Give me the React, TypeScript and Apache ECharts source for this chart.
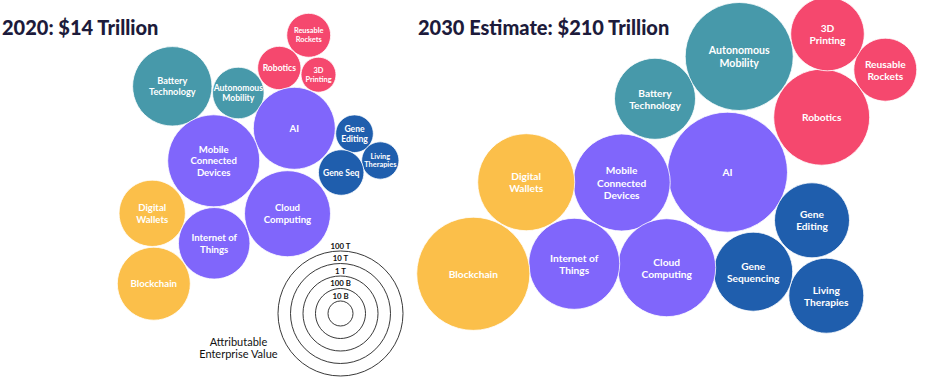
import React, { useEffect, useRef } from "react";
import * as echarts from "echarts";

// ---- Data (values in $ billions) ----
const techs = [
  "Battery Technology",
  "Autonomous Mobility",
  "Reusable Rockets",
  "Robotics",
  "3D Printing",
  "AI",
  "Mobile Connected Devices",
  "Gene Editing",
  "Living Therapies",
  "Gene Sequencing",
  "Cloud Computing",
  "Digital Wallets",
  "Internet of Things",
  "Blockchain",
];
const groups = ["teal", "teal", "pink", "pink", "pink", "purple", "purple", "blue", "blue", "blue", "purple", "yellow", "purple", "yellow"];
const labels2020 = [
  "Battery\nTechnology", "Autonomous\nMobility", "Reusable\nRockets", "Robotics", "3D\nPrinting", "AI",
  "Mobile\nConnected\nDevices", "Gene\nEditing", "Living\nTherapies", "Gene Seq", "Cloud\nComputing",
  "Digital\nWallets", "Internet of\nThings", "Blockchain",
];
const labels2030 = [
  "Battery\nTechnology", "Autonomous\nMobility", "Reusable\nRockets", "Robotics", "3D\nPrinting", "AI",
  "Mobile\nConnected\nDevices", "Gene\nEditing", "Living\nTherapies", "Gene\nSequencing", "Cloud\nComputing",
  "Digital\nWallets", "Internet of\nThings", "Blockchain",
];
const value2020B = [1500, 115, 57, 54, 25, 1900, 4800, 32, 31, 66, 2750, 450, 725, 830];
const value2030B = [1740, 20900, 330, 6900, 880, 63000, 7600, 1000, 1000, 1450, 8300, 7600, 4370, 33500];

// packed-bubble layout positions
const pos2020 = [
  [172.3, 86.3], [238.3, 93], [308.7, 35.3], [279.3, 68], [318.5, 74.7], [294.3, 128.3], [213.7, 160.8],
  [354.5, 133.7], [380.3, 160.5], [341.2, 172.5], [287.5, 213.7], [152.2, 213.3], [214.2, 243.3], [153.8, 283.7],
];
const pos2030 = [
  [655, 98.8], [739.2, 56.5], [885.3, 69.7], [821.7, 117.2], [827.5, 34], [727.5, 172.2], [621.7, 182.5],
  [812, 220.3], [826.3, 295.7], [753.2, 271.7], [666.7, 267.7], [526.2, 182.2], [574.2, 263.8], [473.3, 273.8],
];

const legendValuesB = [100000, 10000, 1000, 100, 10];
const legendLabels = ["100 T", "10 T", "1 T", "100 B", "10 B"];
const legendCenter = [340.5, 313.5];

const titles = ["2020: $14 Trillion", "2030 Estimate: $210 Trillion"];
const legendTitle = "Attributable\nEnterprise Value";

// ---- Styles ----
const colors: Record<string, string> = {
  teal: "#4799AA",
  pink: "#F5486E",
  purple: "#8066FB",
  blue: "#1F5EAD",
  yellow: "#FBBF4A",
};
const fontSize2020 = [9.2, 8.6, 7.4, 8.6, 7.4, 9.6, 9.6, 8.6, 7.4, 8.6, 9.6, 9.6, 9.6, 9.6];
const fontSize2030 = [10.2, 10.6, 10.2, 10.2, 10.2, 10.2, 10.2, 10.2, 10.2, 10.2, 10.2, 10.2, 10.2, 10.2];
const FONT = "Lato, 'Noto Sans', sans-serif";

const sizeOf = (vB: number) => 25 * Math.log10(vB);

export default function App() {
  const ref = useRef<HTMLDivElement>(null);
  useEffect(() => {
    document.body.style.margin = "0";
    if (!ref.current) return;
    const chart = echarts.init(ref.current, undefined, { renderer: "svg" });

    const bubbleData = (vals: number[], pos: number[][], labels: string[], fs: number[]) =>
      vals.map((v, i) => ({
        name: techs[i],
        value: [pos[i][0], pos[i][1], v],
        itemStyle: { color: colors[groups[i]] },
        label: {
          formatter: labels[i],
          fontSize: fs[i],
          lineHeight: fs[i] * 1.2,
        },
      }));

    const bubbleSeries = (data: any[]) => ({
      type: "scatter",
      symbol: "circle",
      silent: true,
      data,
      symbolSize: (val: number[]) => sizeOf(val[2]),
      itemStyle: { opacity: 1, borderColor: "#fff", borderWidth: 0.8 },
      label: {
        show: true,
        position: "inside",
        color: "#fff",
        fontFamily: FONT,
        fontWeight: "bold",
      },
      emphasis: { disabled: true },
    });

    chart.setOption({
      animation: false,
      backgroundColor: "#fff",
      grid: { left: 0, right: 0, top: 0, bottom: 0, containLabel: false },
      xAxis: { type: "value", min: 0, max: 939, show: false },
      yAxis: { type: "value", min: 0, max: 391, inverse: true, show: false },
      series: [
        bubbleSeries(bubbleData(value2020B, pos2020, labels2020, fontSize2020)),
        bubbleSeries(bubbleData(value2030B, pos2030, labels2030, fontSize2030)),
        {
          type: "scatter",
          symbol: "circle",
          silent: true,
          data: legendValuesB.map((v, i) => ({
            name: legendLabels[i],
            value: [legendCenter[0], legendCenter[1], v],
          })),
          symbolSize: (val: number[]) => sizeOf(val[2]),
          itemStyle: { color: "rgba(0,0,0,0)", borderColor: "#222", borderWidth: 0.9, opacity: 1 },
          label: {
            show: true,
            position: "top",
            distance: 1,
            formatter: "{b}",
            color: "#111",
            fontFamily: FONT,
            fontWeight: "bold",
            fontSize: 7.8,
          },
          emphasis: { disabled: true },
        },
      ],
      graphic: [
        {
          type: "text",
          left: 2,
          top: 17,
          style: { text: titles[0], font: `900 20px ${FONT}`, fill: "#1D1B3B" },
        },
        {
          type: "text",
          left: 418,
          top: 17,
          style: { text: titles[1], font: `900 20px ${FONT}`, fill: "#1D1B3B" },
        },
        {
          type: "text",
          left: 199,
          top: 335,
          style: {
            text: legendTitle,
            font: `11px ${FONT}`,
            fill: "#111",
            textAlign: "center",
            lineHeight: 12,
          },
        },
      ],
    });
    return () => chart.dispose();
  }, []);
  return (
    <div
      ref={ref}
      style={{ position: "absolute", left: 0, top: 0, width: 939, height: 391 }}
    />
  );
}
